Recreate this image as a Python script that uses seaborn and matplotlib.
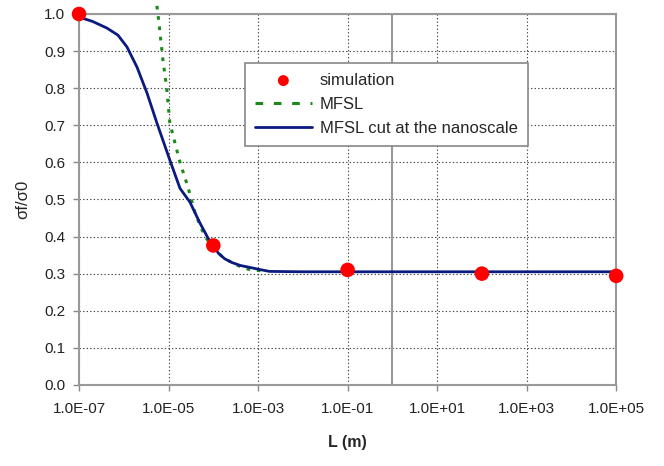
#!/usr/bin/env python3

import matplotlib.pyplot as plt
import matplotlib.ticker as mticker
import pandas as pd
import seaborn as sns

# simulation points
sim_L = [1e-7, 1e-4, 1e-1, 1e2, 1e5]
sim_sigma = [1.0, 0.376, 0.31, 0.30, 0.294]

# MFSL (dotted green)
mfsl_L = [5.5e-6, 6.0e-6, 7.5e-6, 9.1e-6, 1.07e-5, 1.8e-5, 2.7e-5, 4.0e-5,
          6.5e-5, 1.0e-4, 1.6e-4, 3.0e-4, 6.0e-4, 1.5e-3]
mfsl_sigma = [1.022, 0.984, 0.876, 0.80, 0.706, 0.60, 0.534, 0.46,
              0.40, 0.37, 0.345, 0.325, 0.312, 0.306]

# MFSL cut at the nanoscale (solid navy)
cut_L = [1.1e-7, 2.0e-7, 4.2e-7, 7.4e-7, 1.18e-6, 1.97e-6, 3.3e-6, 5.5e-6,
         1.07e-5, 1.8e-5, 3.0e-5, 5.0e-5, 7.6e-5, 1.0e-4, 1.3e-4, 1.8e-4,
         2.6e-4, 4.0e-4, 7.0e-4, 1.1e-3, 1.8e-3, 1e-2, 1e0, 1e2, 1e5]
cut_sigma = [0.99, 0.98, 0.962, 0.943, 0.911, 0.857, 0.787, 0.706,
             0.606, 0.53, 0.493, 0.437, 0.396, 0.375, 0.355, 0.340,
             0.330, 0.322, 0.316, 0.311, 0.306, 0.305, 0.305, 0.305, 0.305]

sim = pd.DataFrame({"L": sim_L, "sigma": sim_sigma})
mfsl = pd.DataFrame({"L": mfsl_L, "sigma": mfsl_sigma})
cut = pd.DataFrame({"L": cut_L, "sigma": cut_sigma})

sns.set_theme(style="white")
plt.rcParams["font.family"] = ["Liberation Sans", "DejaVu Sans"]

fig = plt.figure(figsize=(6.64, 4.66), dpi=100)
ax = fig.add_axes([0.119, 0.174, 0.809, 0.796])

ax.set_xscale("log")
ax.set_xlim(1e-7, 1e5)
ax.set_ylim(0, 1.0)

# grid
ax.set_xticks([10.0 ** e for e in range(-7, 6, 2)])
ax.set_yticks([i / 10 for i in range(11)])
ax.xaxis.set_minor_locator(mticker.NullLocator())
ax.grid(True, which="major", color="#444444", linestyle=(0, (1.2, 2)), linewidth=0.8)
ax.axvline(1.0, color="#999999", linewidth=1.5, zorder=1.5)

sns.lineplot(data=mfsl, x="L", y="sigma", ax=ax, color="#1a8a1a",
             linestyle=(0, (1.2, 2.2)), linewidth=2.2, clip_on=False,
             label="MFSL", zorder=3)
sns.lineplot(data=cut, x="L", y="sigma", ax=ax, color="#0a1a80",
             linewidth=2.0, label="MFSL cut at the nanoscale", zorder=4)
sns.scatterplot(data=sim, x="L", y="sigma", ax=ax, color="#ff0000", s=110,
                edgecolor="none", clip_on=False, label="simulation", zorder=5)

ax.xaxis.set_major_formatter(mticker.FuncFormatter(
    lambda v, p: "%.1E" % v))
ax.yaxis.set_major_formatter(mticker.FormatStrFormatter("%.1f"))
ax.tick_params(axis="both", labelsize=11, direction="out", length=4,
               width=1, color="#888888", pad=6, colors="#222222")
ax.tick_params(axis="x", pad=8)
ax.tick_params(axis="both", which="both", bottom=True, left=True)

for sp in ax.spines.values():
    sp.set_color("#999999")
    sp.set_linewidth(1.5)

ax.set_xlabel("L (m)", fontsize=11.5, fontweight="bold", labelpad=14)
ax.set_ylabel("σf/σ0", fontsize=12, labelpad=10)

handles, labels = ax.get_legend_handles_labels()
order = [labels.index("simulation"), labels.index("MFSL"),
         labels.index("MFSL cut at the nanoscale")]
leg = ax.legend([handles[i] for i in order], [labels[i] for i in order],
                loc="upper left", bbox_to_anchor=(0.309, 0.868),
                frameon=True, fancybox=False, fontsize=12,
                edgecolor="#888888", framealpha=1, borderpad=0.6,
                handlelength=3.4, handletextpad=0.5, labelspacing=0.55,
                markerscale=0.75, borderaxespad=0)
leg.get_frame().set_linewidth(1.2)
# Excel draws the dotted series as short dashes in the legend
leg.legend_handles[1].set_linestyle((0, (2.5, 3.5)))

plt.savefig("out.png", dpi=100)
